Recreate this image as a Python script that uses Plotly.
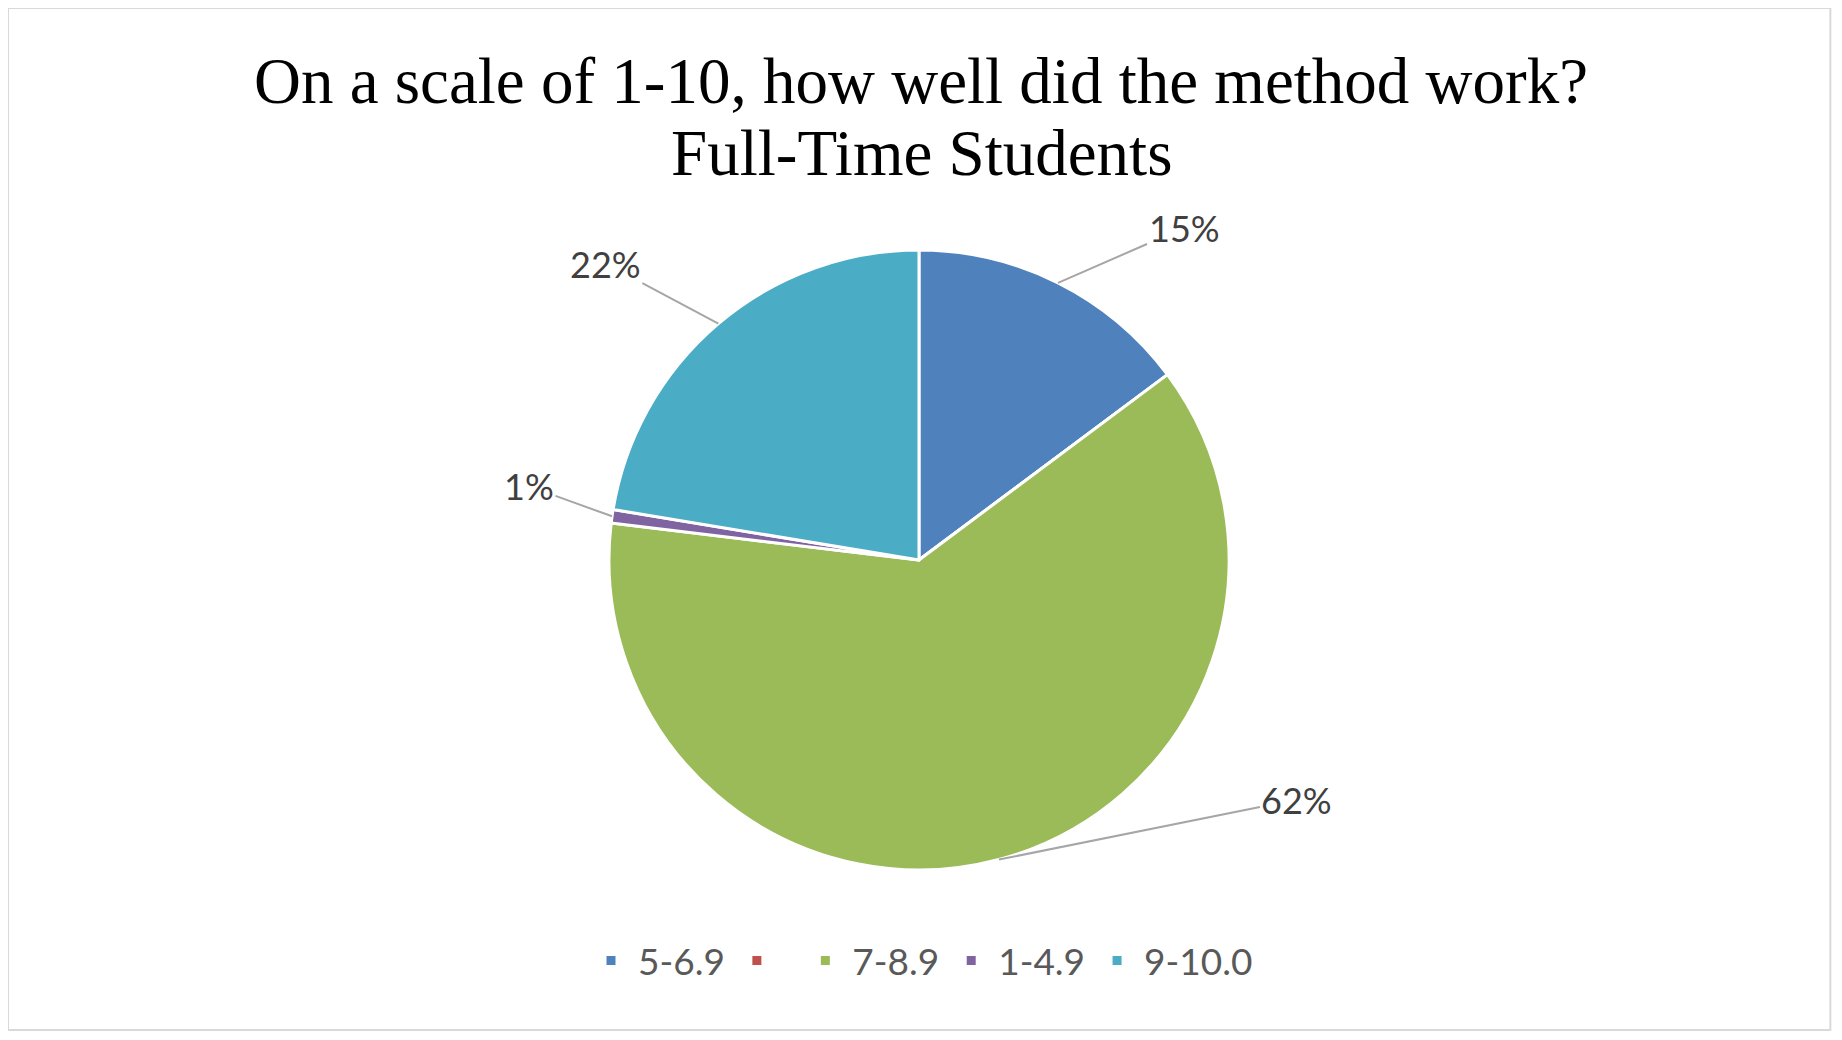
import math
import plotly.graph_objects as go

# slice data, Excel order (clockwise from 12 o'clock)
labels = ["5-6.9", " ", "7-8.9", "1-4.9", "9-10.0"]
values = [14.8, 0, 62.1, 0.7, 22.4]
colors = ["#4f81bd", "#c0504d", "#9bbb59", "#8064a2", "#4bacc6"]

title_lines = ["On a scale of 1-10, how well did the method work?", "Full-Time Students"]

# page body has an 8px margin, so keep the figure inside the window
W, H = 1826, 1024
dom_x = [0.3291, 0.6687]
dom_y = [0.1582, 0.7637]

# label offsets from slice edge, pixels (layout only)
label_offsets = {0: (126, -55), 2: (298, -60), 3: (-83, -30), 4: (-113, -60)}

fig = go.Figure(go.Pie(
    labels=labels,
    values=values,
    sort=False,
    direction="clockwise",
    rotation=0,
    textinfo="none",
    hoverinfo="label+percent",
    marker=dict(colors=colors, line=dict(color="white", width=3)),
    domain=dict(x=dom_x, y=dom_y),
))

# data labels with leader lines, at the mid angle of each slice
total = sum(values)
cx = (dom_x[0] + dom_x[1]) / 2
cy = (dom_y[0] + dom_y[1]) / 2
R = (dom_x[1] - dom_x[0]) * W / 2
cum = 0
for i, v in enumerate(values):
    mid = (cum + v / 2) / total * 2 * math.pi
    cum += v
    if i not in label_offsets:
        continue
    ax, ay = label_offsets[i]
    fig.add_annotation(
        x=cx + R * math.sin(mid) / W,
        y=cy + R * math.cos(mid) / H,
        xref="paper", yref="paper",
        text=f"{round(v / total * 100)}%",
        showarrow=True, arrowhead=0, arrowwidth=2, arrowcolor="#a6a6a6",
        ax=ax, ay=ay,
        font=dict(family="Lato", size=36, color="#404040"),
    )

# second title line
title_font = dict(family="Liberation Serif", size=65, color="black")
fig.add_annotation(
    text=title_lines[1], x=0.5, y=0.8584, xref="paper", yref="paper",
    xanchor="center", yanchor="middle", showarrow=False, font=title_font,
)

# chart border
fig.add_shape(type="rect", xref="paper", yref="paper",
              x0=0, x1=0.998, y0=0.002, y1=1,
              line=dict(color="#d9d9d9", width=2))

fig.update_layout(
    width=W, height=H,
    margin=dict(l=0, r=0, t=0, b=0),
    paper_bgcolor="white",
    title=dict(
        text=title_lines[0],
        x=0.5, xanchor="center", y=0.9297, yanchor="middle",
        font=title_font,
    ),
    legend=dict(
        orientation="h", x=0.5, xanchor="center", y=0.0693, yanchor="middle",
        font=dict(family="Lato", size=37, color="#595959"),
        traceorder="normal", itemwidth=44,
    ),
)

fig.write_html("out.html")
